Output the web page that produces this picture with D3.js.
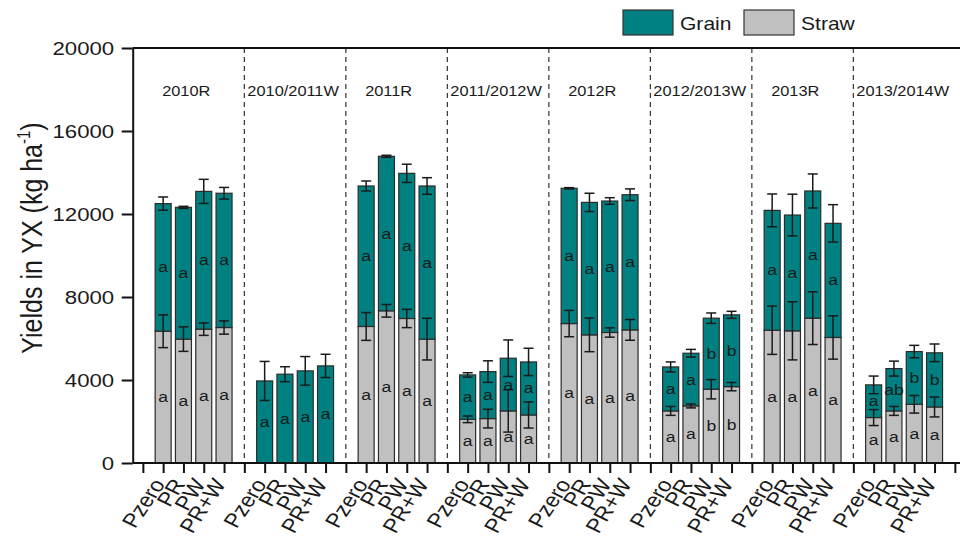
<!DOCTYPE html>
<html>
<head>
<meta charset="utf-8">
<script src="https://cdn.jsdelivr.net/npm/d3@7"></script>
<style>
body { margin: 0; background: #fff; }
text { font-family: "Liberation Sans", Arial, sans-serif; fill: #1a1a1a; }
</style>
</head>
<body>
<div id="chart"></div>
<script>
// data (kg/ha)
var seasons = ["2010R", "2010/2011W", "2011R", "2011/2012W", "2012R", "2012/2013W", "2013R", "2013/2014W"];
var treatments = ["Pzero", "PR", "PW", "PR+W"];

var straw = [
    [6350, 5970, 6450, 6530],
    [0, 0, 0, 0],
    [6580, 7335, 6965, 5970],
    [2105, 2140, 2510, 2315],
    [6720, 6175, 6290, 6415],
    [2510, 2750, 3555, 3680],
    [6400, 6370, 6980, 6050],
    [2190, 2510, 2830, 2700]
];
var grain = [
    [6150, 6350, 6640, 6470],
    [3955, 4280, 4440, 4680],
    [6770, 7445, 6995, 7380],
    [2140, 2265, 2540, 2555],
    [6520, 6385, 6335, 6515],
    [2120, 2540, 3425, 3460],
    [5775, 5580, 6130, 5500],
    [1575, 2040, 2540, 2610]
];
var strawErr = [
    [790, 590, 300, 320],
    [0, 0, 0, 0],
    [670, 305, 440, 1005],
    [160, 450, 1020, 630],
    [635, 810, 225, 500],
    [215, 95, 465, 200],
    [1165, 1400, 1270, 1045],
    [385, 215, 425, 480]
];
var totalErr = [
    [320, 50, 580, 280],
    [940, 360, 690, 560],
    [240, 50, 440, 400],
    [105, 520, 880, 660],
    [30, 440, 160, 280],
    [240, 185, 250, 170],
    [790, 1005, 820, 900],
    [425, 360, 300, 425]
];
var grainLetters = [
    ["a", "a", "a", "a"],
    ["a", "a", "a", "a"],
    ["a", "a", "a", "a"],
    ["a", "a", "a", "a"],
    ["a", "a", "a", "a"],
    ["a", "a", "b", "b"],
    ["a", "a", "a", "a"],
    ["a", "ab", "b", "b"]
];
var strawLetters = [
    ["a", "a", "a", "a"],
    ["", "", "", ""],
    ["a", "a", "a", "a"],
    ["a", "a", "a", "a"],
    ["a", "a", "a", "a"],
    ["a", "a", "b", "b"],
    ["a", "a", "a", "a"],
    ["a", "a", "a", "a"]
];

var width = 960;
var height = 548;
var stretch = 1.17;   // the figure's type is a little wide
var grainColor = "#008080";
var strawColor = "#c0c0c0";

var svg = d3.select("#chart")
    .append("svg")
    .attr("width", width)
    .attr("height", height);

// one slot per tick: separator + 4 bars per season
var x = d3.scaleLinear().domain([-0.5, 41]).range([132.7, 132.7 + 41.5 * 20.3]);
var y = d3.scaleLinear().domain([0, 20000]).range([463, 48]);
var barW = 16;

var bars = [];
seasons.forEach(function (season, s) {
    treatments.forEach(function (tr, t) {
        bars.push({
            n: s * 5 + 1 + t,
            straw: straw[s][t],
            total: straw[s][t] + grain[s][t],
            sErr: strawErr[s][t],
            tErr: totalErr[s][t],
            gL: grainLetters[s][t],
            sL: strawLetters[s][t]
        });
    });
});

// dashed separators
svg.selectAll(".sep")
    .data(d3.range(1, seasons.length))
    .enter()
    .append("line")
    .attr("x1", function (d) { return x(d * 5); })
    .attr("x2", function (d) { return x(d * 5); })
    .attr("y1", y(20000))
    .attr("y2", y(0))
    .attr("stroke", "#333")
    .attr("stroke-width", 1.2)
    .attr("stroke-dasharray", "5,4");

// season labels
svg.selectAll(".season")
    .data(seasons)
    .enter()
    .append("text")
    .attr("font-size", "14px")
    .attr("transform", function (d, i) {
        var px = d.indexOf("W") > 0 ? x(i * 5) + 3 : x(i * 5 + 1) - 1;
        return "translate(" + px + ",96) scale(" + stretch + ",1)";
    })
    .text(function (d) { return d; });

// straw segments
svg.selectAll(".straw")
    .data(bars.filter(function (d) { return d.straw > 0; }))
    .enter()
    .append("rect")
    .attr("x", function (d) { return x(d.n) - barW / 2; })
    .attr("width", barW)
    .attr("y", function (d) { return y(d.straw); })
    .attr("height", function (d) { return y(0) - y(d.straw); })
    .attr("fill", strawColor)
    .attr("stroke", "#2b2b2b")
    .attr("stroke-width", 1.2);

// grain segments
svg.selectAll(".grain")
    .data(bars)
    .enter()
    .append("rect")
    .attr("x", function (d) { return x(d.n) - barW / 2; })
    .attr("width", barW)
    .attr("y", function (d) { return y(d.total); })
    .attr("height", function (d) { return y(d.straw) - y(d.total); })
    .attr("fill", grainColor)
    .attr("stroke", "#2b2b2b")
    .attr("stroke-width", 1.2);

// error bars
function errBar(sel, val, err) {
    sel.append("line")
        .attr("x1", function (d) { return x(d.n); })
        .attr("x2", function (d) { return x(d.n); })
        .attr("y1", function (d) { return y(d[val] + d[err]); })
        .attr("y2", function (d) { return y(d[val] - d[err]); });
    [1, -1].forEach(function (sgn) {
        sel.append("line")
            .attr("x1", function (d) { return x(d.n) - 5; })
            .attr("x2", function (d) { return x(d.n) + 5; })
            .attr("y1", function (d) { return y(d[val] + sgn * d[err]); })
            .attr("y2", function (d) { return y(d[val] + sgn * d[err]); });
    });
}
var eb = svg.append("g").attr("stroke", "#1a1a1a").attr("stroke-width", 1.5);
errBar(eb.selectAll(".es").data(bars.filter(function (d) { return d.sErr > 0; })).enter().append("g"), "straw", "sErr");
errBar(eb.selectAll(".et").data(bars).enter().append("g"), "total", "tErr");

// significance letters
svg.selectAll(".gl")
    .data(bars)
    .enter()
    .append("text")
    .attr("font-size", "15px")
    .attr("text-anchor", "middle")
    .attr("transform", function (d) {
        return "translate(" + x(d.n) + "," + ((y(d.straw) + y(d.total)) / 2 + 5) + ") scale(" + stretch + ",1)";
    })
    .text(function (d) { return d.gL; });

svg.selectAll(".sl")
    .data(bars.filter(function (d) { return d.sL !== ""; }))
    .enter()
    .append("text")
    .attr("font-size", "15px")
    .attr("text-anchor", "middle")
    .attr("transform", function (d) {
        return "translate(" + x(d.n) + "," + ((y(0) + y(d.straw)) / 2 + 5) + ") scale(" + stretch + ",1)";
    })
    .text(function (d) { return d.sL; });

// top frame
svg.append("line")
    .attr("x1", x(-0.5))
    .attr("x2", width)
    .attr("y1", y(20000))
    .attr("y2", y(20000))
    .attr("stroke", "#111")
    .attr("stroke-width", 2);

// y axis
var yAxis = svg.append("g")
    .attr("transform", "translate(" + x(-0.5) + ",0)")
    .call(d3.axisLeft(y).tickValues(d3.range(0, 20001, 4000)).tickSize(11).tickSizeOuter(0)
        .tickPadding(0).tickFormat(d3.format("d")));
yAxis.selectAll("path, line").attr("stroke", "#111").attr("stroke-width", 2);
yAxis.selectAll("text")
    .attr("font-size", "19px")
    .attr("font-family", "Liberation Sans, Arial, sans-serif")
    .attr("fill", "#1a1a1a")
    .attr("x", -18.5 / stretch)
    .attr("transform", "scale(" + stretch + ",1)");

// x axis
var xAxis = svg.append("g")
    .attr("transform", "translate(0," + y(0) + ")")
    .call(d3.axisBottom(x).tickValues(d3.range(0, 41)).tickSize(10).tickSizeOuter(0)
        .tickFormat(function (n) { return n % 5 === 0 ? "" : treatments[n % 5 - 1]; }));
xAxis.select("path").attr("d", "M" + x(-0.5) + ",0H" + width);
xAxis.selectAll("path, line").attr("stroke", "#111").attr("stroke-width", 2);
xAxis.selectAll("text")
    .attr("font-size", "20px")
    .attr("font-family", "Liberation Sans, Arial, sans-serif")
    .attr("fill", "#1a1a1a")
    .attr("text-anchor", "end")
    .attr("x", 0)
    .attr("y", 0)
    .attr("dy", 0)
    .attr("transform", "translate(2,21) scale(" + stretch + ",1) rotate(-60)");

// y title
var yt = svg.append("text")
    .attr("font-size", "25px")
    .attr("text-anchor", "middle")
    .attr("transform", "translate(42,238) scale(" + stretch + ",1) rotate(-90)");
yt.append("tspan").text("Yields in YX (kg ha");
yt.append("tspan").attr("font-size", "15px").attr("dy", "-10").text("-1");
yt.append("tspan").attr("dy", "10").text(")");

// legend
var legend = svg.append("g");
[["Grain", grainColor, 623, 680], ["Straw", strawColor, 744, 801]].forEach(function (d) {
    legend.append("rect")
        .attr("x", d[2])
        .attr("y", 10)
        .attr("width", 50)
        .attr("height", 25)
        .attr("fill", d[1])
        .attr("stroke", "#333")
        .attr("stroke-width", 1.2);
    legend.append("text")
        .attr("font-size", "18px")
        .attr("transform", "translate(" + d[3] + ",30) scale(" + stretch + ",1)")
        .text(d[0]);
});
</script>
</body>
</html>
